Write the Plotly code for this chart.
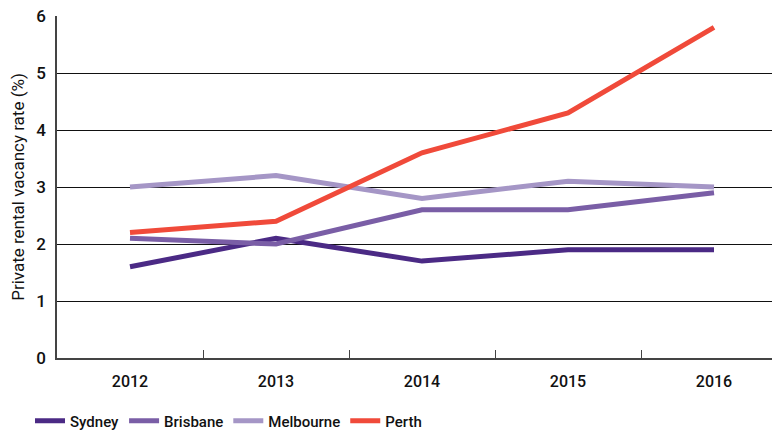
import plotly.graph_objects as go

years = ["2012", "2013", "2014", "2015", "2016"]
sydney = [1.6, 2.1, 1.7, 1.9, 1.9]
brisbane = [2.1, 2.0, 2.6, 2.6, 2.9]
melbourne = [3.0, 3.2, 2.8, 3.1, 3.0]
perth = [2.2, 2.4, 3.6, 4.3, 5.8]

series = [
    ("Sydney", sydney, "#4b2a85"),
    ("Brisbane", brisbane, "#7a5ea6"),
    ("Melbourne", melbourne, "#a596c6"),
    ("Perth", perth, "#f04a3a"),
]

fig = go.Figure()
for name, vals, color in series:
    fig.add_trace(go.Scatter(
        x=years, y=vals, name=name, mode="lines",
        line=dict(color=color, width=5),
    ))

# page body adds an 8px offset; margins compensate for it
fig.update_layout(
    width=780, height=431,
    margin=dict(l=49, r=8, t=8, b=81, autoexpand=False),
    paper_bgcolor="white", plot_bgcolor="white",
    font=dict(family="Roboto", size=16, color="#111111"),
    showlegend=True,
    legend=dict(
        orientation="h", x=22 / 780, xanchor="left",
        y=18 / 431, yanchor="middle",
        xref="container", yref="container",
        font=dict(size=15, weight=500), itemwidth=30, traceorder="normal",
    ),
    xaxis=dict(
        type="category", range=[-0.5, 4.452], automargin=False,
        showgrid=False, showline=True, linecolor="#444444", linewidth=2,
        ticks="inside", tickson="boundaries", ticklen=8, tickcolor="#444444",
        tickwidth=1, tickfont=dict(size=16, weight=500), ticklabelstandoff=8,
    ),
    yaxis=dict(
        range=[0, 6], dtick=1, showgrid=True, gridcolor="#111111", gridwidth=1,
        showline=True, linecolor="#444444", linewidth=1.5, zeroline=False,
        automargin=False, ticklabeloverflow="allow",
        ticks="", tickfont=dict(size=17, weight=500), ticklabelstandoff=6,
        title=dict(text="Private rental vacancy rate (%)",
                   font=dict(size=17, weight=400), standoff=8),
    ),
)

fig.write_html("out.html")
